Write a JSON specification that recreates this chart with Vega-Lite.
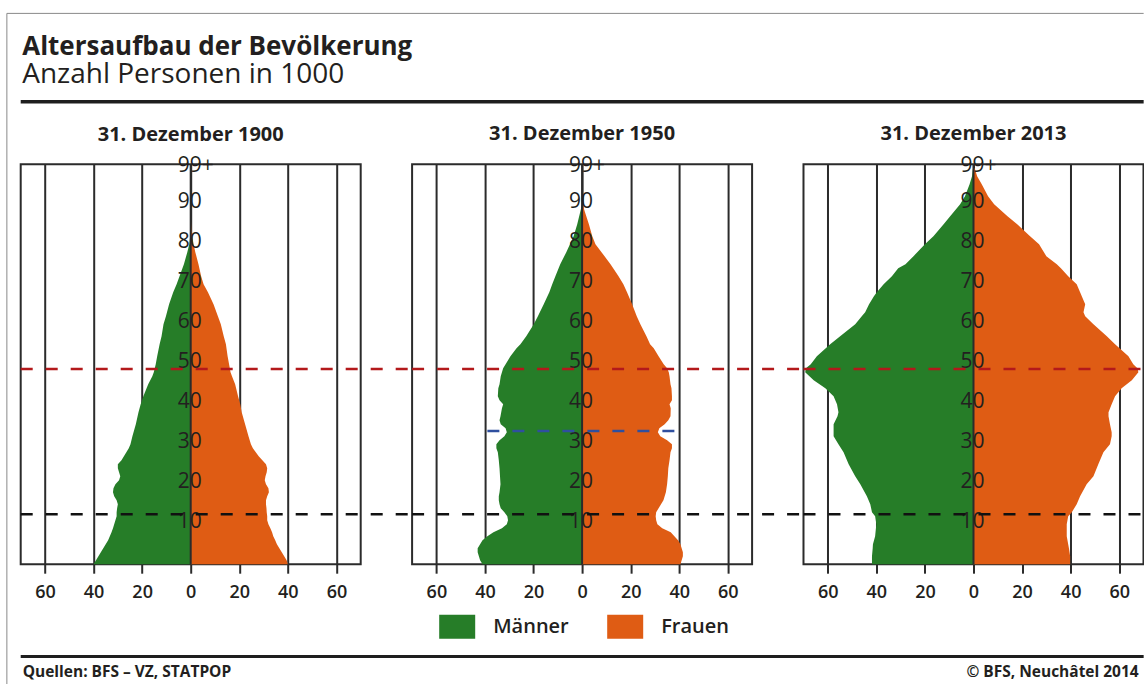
{
  "$schema": "https://vega.github.io/schema/vega-lite/v6.json",
  "background": "white",
  "padding": {"left": 4.7, "top": 11.2, "right": 0, "bottom": 0},
  "bounds": "flush",
  "spacing": 51.4,
  "title": {"text": "Altersaufbau der Bevölkerung", "subtitle": "Anzahl Personen in 1000", "anchor": "start", "frame": "group", "offset": -77.3, "fontSize": 26, "fontWeight": "bold", "font": "Open Sans", "subtitleFont": "Open Sans", "subtitleFontSize": 28, "subtitleColor": "#231f20", "subtitlePadding": 1, "dx": 1.5},
  "datasets": {
    "pop": [
      {"year":1900,"age":0,"men":40,"women":40},{"year":1900,"age":1,"men":39,"women":39.5},{"year":1900,"age":2,"men":38,"women":38.5},{"year":1900,"age":3,"men":37,"women":37.5},{"year":1900,"age":4,"men":36,"women":36.5},{"year":1900,"age":5,"men":35,"women":35.5},{"year":1900,"age":6,"men":34,"women":34.8},{"year":1900,"age":7,"men":33.3,"women":34},{"year":1900,"age":8,"men":32.6,"women":33.5},{"year":1900,"age":9,"men":32,"women":32.8},{"year":1900,"age":10,"men":31.5,"women":32},{"year":1900,"age":11,"men":31,"women":31.5},{"year":1900,"age":12,"men":30.5,"women":31.5},{"year":1900,"age":13,"men":30.5,"women":31.3},{"year":1900,"age":14,"men":30.3,"women":31.2},{"year":1900,"age":15,"men":30,"women":31},{"year":1900,"age":16,"men":30.5,"women":31},{"year":1900,"age":17,"men":31.5,"women":31.5},{"year":1900,"age":18,"men":32,"women":32.2},{"year":1900,"age":19,"men":31.8,"women":32},{"year":1900,"age":20,"men":31,"women":31},{"year":1900,"age":21,"men":29.5,"women":30.5},{"year":1900,"age":22,"men":29,"women":30.8},{"year":1900,"age":23,"men":29.5,"women":31.3},{"year":1900,"age":24,"men":30,"women":31.5},{"year":1900,"age":25,"men":30,"women":31},{"year":1900,"age":26,"men":28.5,"women":29.5},{"year":1900,"age":27,"men":27.5,"women":28},{"year":1900,"age":28,"men":26.5,"women":26.8},{"year":1900,"age":29,"men":25.5,"women":25.6},{"year":1900,"age":30,"men":24.8,"women":24.8},{"year":1900,"age":32,"men":24,"women":23.8},{"year":1900,"age":35,"men":22.6,"women":22.4},{"year":1900,"age":38,"men":21.5,"women":21},{"year":1900,"age":40,"men":20.6,"women":20.4},{"year":1900,"age":42,"men":19.5,"women":19.5},{"year":1900,"age":45,"men":17.5,"women":18.3},{"year":1900,"age":47,"men":15.8,"women":17},{"year":1900,"age":48,"men":15.2,"women":16.4},{"year":1900,"age":50,"men":14.4,"women":15.8},{"year":1900,"age":52,"men":13.8,"women":15.2},{"year":1900,"age":55,"men":12.8,"women":14.5},{"year":1900,"age":57,"men":12,"women":13.6},{"year":1900,"age":60,"men":11.2,"women":12.4},{"year":1900,"age":62,"men":10.2,"women":11.2},{"year":1900,"age":65,"men":8.9,"women":9.4},{"year":1900,"age":68,"men":7.2,"women":7.1},{"year":1900,"age":70,"men":5.8,"women":5.3},{"year":1900,"age":72,"men":4.6,"women":4.3},{"year":1900,"age":75,"men":2.8,"women":3.2},{"year":1900,"age":78,"men":1.4,"women":1.9},{"year":1900,"age":80,"men":0.6,"women":1.2},{"year":1900,"age":82,"men":0.2,"women":0.6},{"year":1900,"age":85,"men":0,"women":0.2},{"year":1900,"age":87,"men":0,"women":0},
      {"year":1950,"age":0,"men":41,"women":40.5},{"year":1950,"age":1,"men":42,"women":41},{"year":1950,"age":2,"men":42.5,"women":41.5},{"year":1950,"age":3,"men":43,"women":41.5},{"year":1950,"age":4,"men":43,"women":41},{"year":1950,"age":5,"men":42,"women":40.5},{"year":1950,"age":6,"men":41,"women":39.5},{"year":1950,"age":7,"men":39,"women":38},{"year":1950,"age":8,"men":36.5,"women":36.5},{"year":1950,"age":9,"men":33,"women":33},{"year":1950,"age":10,"men":31,"women":31},{"year":1950,"age":11,"men":30.5,"women":30.5},{"year":1950,"age":12,"men":30.8,"women":30.3},{"year":1950,"age":13,"men":32,"women":30.5},{"year":1950,"age":14,"men":33.5,"women":31.5},{"year":1950,"age":15,"men":34,"women":32.5},{"year":1950,"age":16,"men":34.3,"women":33.5},{"year":1950,"age":17,"men":34.3,"women":34},{"year":1950,"age":18,"men":34,"women":34.5},{"year":1950,"age":20,"men":33.6,"women":35},{"year":1950,"age":22,"men":33.8,"women":35.3},{"year":1950,"age":24,"men":34,"women":35.5},{"year":1950,"age":26,"men":34.3,"women":36},{"year":1950,"age":28,"men":34.7,"women":36.4},{"year":1950,"age":29,"men":35.3,"women":37},{"year":1950,"age":30,"men":35.3,"women":37},{"year":1950,"age":31,"men":34,"women":35},{"year":1950,"age":32,"men":32,"women":32.2},{"year":1950,"age":33,"men":31,"women":31.2},{"year":1950,"age":34,"men":31.5,"women":31.8},{"year":1950,"age":35,"men":33.5,"women":34},{"year":1950,"age":36,"men":34,"women":35.5},{"year":1950,"age":37,"men":33.6,"women":36.4},{"year":1950,"age":39,"men":33,"women":36.5},{"year":1950,"age":40,"men":32.5,"women":36},{"year":1950,"age":41,"men":34,"women":37},{"year":1950,"age":42,"men":34.7,"women":37},{"year":1950,"age":44,"men":34.5,"women":36.8},{"year":1950,"age":45,"men":34,"women":36.4},{"year":1950,"age":47,"men":33.5,"women":36},{"year":1950,"age":48,"men":33,"women":35.7},{"year":1950,"age":49,"men":32.5,"women":35},{"year":1950,"age":50,"men":31.5,"women":33.6},{"year":1950,"age":52,"men":29.5,"women":31.5},{"year":1950,"age":54,"men":27,"women":29.5},{"year":1950,"age":55,"men":25.4,"women":28},{"year":1950,"age":57,"men":23,"women":26.5},{"year":1950,"age":60,"men":19.9,"women":24},{"year":1950,"age":62,"men":18.2,"women":22.5},{"year":1950,"age":65,"men":15.8,"women":20.6},{"year":1950,"age":68,"men":13.5,"women":18.5},{"year":1950,"age":70,"men":12.3,"women":17},{"year":1950,"age":72,"men":11,"women":15},{"year":1950,"age":75,"men":9,"women":11.7},{"year":1950,"age":78,"men":6.5,"women":8},{"year":1950,"age":80,"men":5,"women":5.5},{"year":1950,"age":82,"men":3.5,"women":4.2},{"year":1950,"age":85,"men":2,"women":2.8},{"year":1950,"age":88,"men":0.8,"women":1.2},{"year":1950,"age":90,"men":0,"women":0.2},{"year":1950,"age":91,"men":0,"women":0},
      {"year":2013,"age":0,"men":41.8,"women":39.8},{"year":2013,"age":2,"men":41.8,"women":39.8},{"year":2013,"age":4,"men":41.5,"women":39.3},{"year":2013,"age":5,"men":41.4,"women":39},{"year":2013,"age":7,"men":40.5,"women":38.4},{"year":2013,"age":10,"men":40,"women":38.4},{"year":2013,"age":12,"men":40.5,"women":39},{"year":2013,"age":13,"men":41.8,"women":40.5},{"year":2013,"age":15,"men":42.5,"women":42.5},{"year":2013,"age":17,"men":43.9,"women":43.9},{"year":2013,"age":20,"men":46.6,"women":46.6},{"year":2013,"age":22,"men":48.7,"women":49.4},{"year":2013,"age":25,"men":51.4,"women":51.4},{"year":2013,"age":28,"men":53.5,"women":53.5},{"year":2013,"age":30,"men":55.6,"women":56.2},{"year":2013,"age":32,"men":57.6,"women":56.9},{"year":2013,"age":33,"men":57.6,"women":56.9},{"year":2013,"age":35,"men":57.6,"women":56.2},{"year":2013,"age":37,"men":56,"women":55.6},{"year":2013,"age":38,"men":55.6,"women":55.6},{"year":2013,"age":40,"men":56.2,"women":56.9},{"year":2013,"age":42,"men":57.6,"women":58.3},{"year":2013,"age":44,"men":61,"women":61},{"year":2013,"age":46,"men":65.8,"women":65.2},{"year":2013,"age":48,"men":69.3,"women":67.9},{"year":2013,"age":49,"men":69,"women":67.5},{"year":2013,"age":50,"men":67,"women":65.8},{"year":2013,"age":52,"men":64.5,"women":63.8},{"year":2013,"age":55,"men":59,"women":58.3},{"year":2013,"age":57,"men":54.9,"women":54.9},{"year":2013,"age":60,"men":48.7,"women":49.4},{"year":2013,"age":62,"men":46,"women":46},{"year":2013,"age":63,"men":44.6,"women":45.3},{"year":2013,"age":65,"men":43,"women":46},{"year":2013,"age":67,"men":41,"women":44.6},{"year":2013,"age":68,"men":39.8,"women":43.9},{"year":2013,"age":70,"men":37,"women":42.5},{"year":2013,"age":72,"men":33.6,"women":39},{"year":2013,"age":74,"men":31,"women":36},{"year":2013,"age":75,"men":28,"women":34.3},{"year":2013,"age":77,"men":24.7,"women":30},{"year":2013,"age":80,"men":20,"women":27},{"year":2013,"age":82,"men":16.5,"women":23.3},{"year":2013,"age":85,"men":12.3,"women":18},{"year":2013,"age":87,"men":9.6,"women":14},{"year":2013,"age":90,"men":5.5,"women":8.5},{"year":2013,"age":92,"men":3.5,"women":6},{"year":2013,"age":95,"men":1.6,"women":3.4},{"year":2013,"age":97,"men":0.6,"women":1.5},{"year":2013,"age":99,"men":0.2,"women":0.5}
    ],
    "ages": [
      {"age":10,"label":"10"},{"age":20,"label":"20"},{"age":30,"label":"30"},{"age":40,"label":"40"},{"age":50,"label":"50"},{"age":60,"label":"60"},{"age":70,"label":"70"},{"age":80,"label":"80"},{"age":90,"label":"90"},{"age":99,"label":"99+"}
    ]
  },
  "resolve": {"scale": {"color": "shared"}, "legend": {"color": "shared"}},
  "config": {
    "view": {"stroke": "#2b2b2b", "strokeWidth": 2},
    "title": {"font": "Open Sans", "fontSize": 20, "fontWeight": "bold", "color": "#231f20"},
    "axisX": {"grid": true, "gridColor": "#2b2b2b", "gridWidth": 2, "gridOpacity": 1, "domain": false, "tickColor": "#2b2b2b", "tickWidth": 2, "tickSize": 9, "labelFont": "Open Sans", "labelFontSize": 18, "labelFontWeight": 600, "labelColor": "#231f20", "labelPadding": 10, "labelFlush": false, "labelOverlap": false, "titleFont": "Open Sans", "titleFontSize": 15.5, "titleFontWeight": "bold", "titleColor": "#231f20"},
    "legend": {"orient": "none", "legendX": 424.5, "legendY": 450.5, "direction": "horizontal", "symbolType": "M-1.5,-1H1.5V1H-1.5Z", "symbolSize": 576, "symbolStrokeWidth": 0, "symbolOpacity": 1, "labelFont": "Open Sans", "labelFontSize": 20, "labelFontWeight": 600, "labelColor": "#231f20", "labelOffset": 24, "columnPadding": 38, "padding": 0}
  },
  "hconcat": [
    {
      "width": 340, "height": 400,
      "title": {"text": "31. Dezember 1900", "offset": -131.8},
      "layer": [
        {
          "data": {"name": "pop"},
          "transform": [{"filter": "datum.year == 1900"}],
          "mark": {"type": "area", "orient": "horizontal"},
          "encoding": {
            "y": {"field": "age", "type": "quantitative", "scale": {"domain": [0, 100], "nice": false}, "axis": null},
            "x": {"field": "men", "type": "quantitative", "stack": null, "scale": {"domain": [-70, 70], "nice": false, "reverse": true}, "axis": null},
            "color": {"datum": "Männer", "scale": {"domain": ["Männer", "Frauen"], "range": ["#267d28", "#df5c14"]}, "legend": {"title": null}}
          }
        },
        {
          "layer": [
            {
              "data": {"name": "pop"},
              "transform": [{"filter": "datum.year == 1900"}],
              "mark": {"type": "area", "orient": "horizontal"},
              "encoding": {
                "y": {"field": "age", "type": "quantitative"},
                "x": {"field": "women", "type": "quantitative", "stack": null, "scale": {"domain": [-70, 70], "nice": false},
                  "axis": {"grid": true, "values": [-60, -40, -20, 0, 20, 40, 60], "labelExpr": "abs(datum.value)", "title": "Quellen: BFS – VZ, STATPOP", "titleX": 1.5, "titleY": 107.5, "titleAlign": "left", "titleBaseline": "middle"}},
                "color": {"datum": "Frauen", "legend": {"title": null}}
              }
            },
            {"data": {"values": [{}]}, "mark": {"type": "rule", "color": "#2b2b2b", "strokeWidth": 2}, "encoding": {"x": {"datum": 0}, "y": {"datum": 0}, "y2": {"datum": 100}}},
            {"data": {"name": "ages"}, "mark": {"type": "text", "align": "left", "dx": -13, "dy": -2, "baseline": "middle", "font": "Open Sans", "fontSize": 21, "color": "#231f20"}, "encoding": {"x": {"datum": 0}, "y": {"field": "age", "type": "quantitative"}, "text": {"field": "label"}}},
            {"data": {"values": [{}]}, "mark": {"type": "rule", "color": "#b3191b", "strokeWidth": 2.5, "strokeDash": [12, 13]}, "encoding": {"y": {"datum": 48.8}, "x": {"datum": -70}, "x2": {"datum": 91.2}}},
            {"data": {"values": [{}]}, "mark": {"type": "rule", "color": "#111111", "strokeWidth": 2.5, "strokeDash": [12, 13]}, "encoding": {"y": {"datum": 12.5}, "x": {"datum": -70}, "x2": {"datum": 91.2}}},
            {"data": {"values": [{}]}, "mark": {"type": "rule", "color": "#8a8a8a", "strokeWidth": 1}, "encoding": {"x": {"datum": -75.7}, "y": {"datum": 137.7}, "y2": {"datum": -30.25}}},
            {"data": {"values": [{}]}, "mark": {"type": "rule", "color": "#8a8a8a", "strokeWidth": 1}, "encoding": {"y": {"datum": 137.7}, "x": {"datum": -75.7}, "x2": {"datum": 392.4}}},
            {"data": {"values": [{}]}, "mark": {"type": "rule", "color": "#1e1e1e", "strokeWidth": 3.5}, "encoding": {"y": {"datum": 115.6}, "x": {"datum": -70}, "x2": {"datum": 392.4}}},
            {"data": {"values": [{}]}, "mark": {"type": "rule", "color": "#1e1e1e", "strokeWidth": 3}, "encoding": {"y": {"datum": -23.1}, "x": {"datum": -70}, "x2": {"datum": 392.4}}}
          ]
        }
      ],
      "resolve": {"scale": {"x": "independent"}}
    },
    {
      "width": 340, "height": 400,
      "title": {"text": "31. Dezember 1950", "offset": 11},
      "layer": [
        {
          "data": {"name": "pop"},
          "transform": [{"filter": "datum.year == 1950"}],
          "mark": {"type": "area", "orient": "horizontal"},
          "encoding": {
            "y": {"field": "age", "type": "quantitative", "scale": {"domain": [0, 100], "nice": false}, "axis": null},
            "x": {"field": "men", "type": "quantitative", "stack": null, "scale": {"domain": [-70, 70], "nice": false, "reverse": true}, "axis": null},
            "color": {"datum": "Männer", "scale": {"domain": ["Männer", "Frauen"], "range": ["#267d28", "#df5c14"]}, "legend": {"title": null}}
          }
        },
        {
          "layer": [
            {
              "data": {"name": "pop"},
              "transform": [{"filter": "datum.year == 1950"}],
              "mark": {"type": "area", "orient": "horizontal"},
              "encoding": {
                "y": {"field": "age", "type": "quantitative"},
                "x": {"field": "women", "type": "quantitative", "stack": null, "scale": {"domain": [-70, 70], "nice": false},
                  "axis": {"grid": true, "values": [-60, -40, -20, 0, 20, 40, 60], "labelExpr": "abs(datum.value)", "title": null}},
                "color": {"datum": "Frauen", "legend": {"title": null}}
              }
            },
            {"data": {"values": [{}]}, "mark": {"type": "rule", "color": "#2b2b2b", "strokeWidth": 2}, "encoding": {"x": {"datum": 0}, "y": {"datum": 0}, "y2": {"datum": 100}}},
            {"data": {"name": "ages"}, "mark": {"type": "text", "align": "left", "dx": -13, "dy": -2, "baseline": "middle", "font": "Open Sans", "fontSize": 21, "color": "#231f20"}, "encoding": {"x": {"datum": 0}, "y": {"field": "age", "type": "quantitative"}, "text": {"field": "label"}}},
            {"data": {"values": [{}]}, "mark": {"type": "rule", "color": "#b3191b", "strokeWidth": 2.5, "strokeDash": [12, 13]}, "encoding": {"y": {"datum": 48.8}, "x": {"datum": -70}, "x2": {"datum": 91.2}}},
            {"data": {"values": [{}]}, "mark": {"type": "rule", "color": "#111111", "strokeWidth": 2.5, "strokeDash": [12, 13]}, "encoding": {"y": {"datum": 12.5}, "x": {"datum": -70}, "x2": {"datum": 91.2}}},
            {"data": {"values": [{}]}, "mark": {"type": "rule", "color": "#2f4f9f", "strokeWidth": 2.5, "strokeDash": [12, 13]}, "encoding": {"y": {"datum": 33.3}, "x": {"datum": -39}, "x2": {"datum": 39}}}
          ]
        }
      ],
      "resolve": {"scale": {"x": "independent"}}
    },
    {
      "width": 340, "height": 400,
      "title": {"text": "31. Dezember 2013", "offset": 11},
      "layer": [
        {
          "data": {"name": "pop"},
          "transform": [{"filter": "datum.year == 2013"}],
          "mark": {"type": "area", "orient": "horizontal"},
          "encoding": {
            "y": {"field": "age", "type": "quantitative", "scale": {"domain": [0, 100], "nice": false}, "axis": null},
            "x": {"field": "men", "type": "quantitative", "stack": null, "scale": {"domain": [-70, 70], "nice": false, "reverse": true}, "axis": null},
            "color": {"datum": "Männer", "scale": {"domain": ["Männer", "Frauen"], "range": ["#267d28", "#df5c14"]}, "legend": {"title": null}}
          }
        },
        {
          "layer": [
            {
              "data": {"name": "pop"},
              "transform": [{"filter": "datum.year == 2013"}],
              "mark": {"type": "area", "orient": "horizontal"},
              "encoding": {
                "y": {"field": "age", "type": "quantitative"},
                "x": {"field": "women", "type": "quantitative", "stack": null, "scale": {"domain": [-70, 70], "nice": false},
                  "axis": {"grid": true, "values": [-60, -40, -20, 0, 20, 40, 60], "labelExpr": "abs(datum.value)", "title": "© BFS, Neuchâtel 2014", "titleX": 334.7, "titleY": 107.5, "titleAlign": "right", "titleBaseline": "middle"}},
                "color": {"datum": "Frauen", "legend": {"title": null}}
              }
            },
            {"data": {"values": [{}]}, "mark": {"type": "rule", "color": "#2b2b2b", "strokeWidth": 2}, "encoding": {"x": {"datum": 0}, "y": {"datum": 0}, "y2": {"datum": 100}}},
            {"data": {"name": "ages"}, "mark": {"type": "text", "align": "left", "dx": -13, "dy": -2, "baseline": "middle", "font": "Open Sans", "fontSize": 21, "color": "#231f20"}, "encoding": {"x": {"datum": 0}, "y": {"field": "age", "type": "quantitative"}, "text": {"field": "label"}}},
            {"data": {"values": [{}]}, "mark": {"type": "rule", "color": "#b3191b", "strokeWidth": 2.5, "strokeDash": [12, 13]}, "encoding": {"y": {"datum": 48.8}, "x": {"datum": -70}, "x2": {"datum": 70.1}}},
            {"data": {"values": [{}]}, "mark": {"type": "rule", "color": "#111111", "strokeWidth": 2.5, "strokeDash": [12, 13]}, "encoding": {"y": {"datum": 12.5}, "x": {"datum": -70}, "x2": {"datum": 70.1}}}
          ]
        }
      ],
      "resolve": {"scale": {"x": "independent"}}
    }
  ]
}
